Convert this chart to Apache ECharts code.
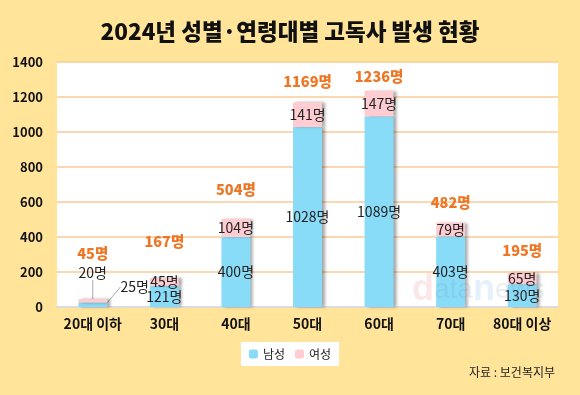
<!DOCTYPE html>
<html><head><meta charset="utf-8">
<script src="https://cdn.jsdelivr.net/npm/echarts@6/dist/echarts.min.js"></script>
<style>html,body{margin:0;padding:0;background:#FFE49A;}#c{width:580px;height:395px;}</style>
</head><body><div id="c"></div>
<script>
const categories = ['20대 이하','30대','40대','50대','60대','70대','80대 이상'];
const male = [25,121,400,1028,1089,403,130];
const female = [20,45,104,141,147,79,65];
const totals = [45,167,504,1169,1236,482,195];
const totalLabelDy = [-46,-36,-29,-21,-14,-20,-22];
const yTicks = [0,200,400,600,800,1000,1200,1400];

const FONT = '"Noto Sans CJK KR", sans-serif';
const chart = echarts.init(document.getElementById('c'));
const shadow = {shadowColor:'rgba(0,0,0,0.35)', shadowBlur:3, shadowOffsetX:3, shadowOffsetY:0};
chart.setOption({
  backgroundColor:'#FFE49A',
  animation:false,
  title:{text:'2024년 성별·연령대별 고독사 발생 현황', left:'center', top:15,
    textStyle:{fontFamily:FONT, fontSize:22.5, fontWeight:900, color:'#111'}},
  legend:{bottom:29, left:'center', itemWidth:9, itemHeight:9, itemGap:10,
    backgroundColor:'#fff', padding:[6,8,6,8], borderRadius:0,
    data:['남성','여성'],
    textStyle:{fontFamily:FONT, fontSize:12, color:'#222'}},
  grid:{left:57, right:22, top:62, bottom:88, show:true, backgroundColor:'#fff', borderWidth:0},
  xAxis:{type:'category', data:categories,
    axisLine:{lineStyle:{color:'#dcdcdc', width:2}}, axisTick:{show:false},
    axisLabel:{interval:0, fontFamily:FONT, fontSize:14, fontWeight:'bold', color:'#111', margin:10}},
  yAxis:{type:'value', min:yTicks[0], max:yTicks[yTicks.length-1], interval:200,
    axisLine:{show:false}, axisTick:{show:false},
    splitLine:{lineStyle:{color:'#FBCB98', width:1.5}},
    axisLabel:{formatter:v=>String(v), fontFamily:FONT, fontSize:13, fontWeight:'bold', color:'#111', margin:14}},
  graphic:[
    {type:'text', right:25, bottom:17, style:{text:'자료 : 보건복지부', font:'12px '+FONT, fill:'#222'}},
    {type:'text', left:412, top:272, silent:true, z:100, style:{
      text:'{d|d}{a|ata}{n|n}{a|ews}',
      rich:{
        d:{fontFamily:'Arial, sans-serif', fontSize:36, fontWeight:'bold', fill:'rgba(240,120,130,0.18)'},
        a:{fontFamily:'Arial, sans-serif', fontSize:28, fill:'rgba(120,140,170,0.16)'},
        n:{fontFamily:'Arial, sans-serif', fontSize:36, fontWeight:'bold', fill:'rgba(90,160,230,0.16)'}
      }}}
  ],
  series:[
    {name:'남성', type:'bar', stack:'s', barWidth:'40.5%', data:male,
      itemStyle:Object.assign({color:'#88DCF8'}, shadow),
      label:{show:true, position:'inside', formatter:'{c}명', fontFamily:FONT, fontSize:14, color:'#222'},
      labelLine:{show:true, lineStyle:{color:'#aaa', width:1}},
      labelLayout:function(p){ return p.dataIndex===0 ? {dx:42, dy:-18} : {}; }},
    {name:'여성', type:'bar', stack:'s', data:female,
      itemStyle:Object.assign({color:'#FFCCD1'}, shadow),
      label:{show:true, position:'inside', formatter:'{c}명', fontFamily:FONT, fontSize:14, color:'#222'},
      labelLine:{show:true, lineStyle:{color:'#aaa', width:1}},
      labelLayout:function(p){ return p.dataIndex===0 ? {dy:-28} : {}; }},
    {name:'합계', type:'scatter', symbolSize:2, itemStyle:{color:'rgba(0,0,0,0)'}, silent:true, z:5,
      data:totals,
      label:{show:true, position:'inside', formatter:'{c}명', fontFamily:FONT, fontSize:14.5, fontWeight:900, color:'#EE7624', opacity:1},
      labelLayout:function(p){ return {dy: totalLabelDy[p.dataIndex], hideOverlap:false}; }}
  ]
});
</script></body></html>
